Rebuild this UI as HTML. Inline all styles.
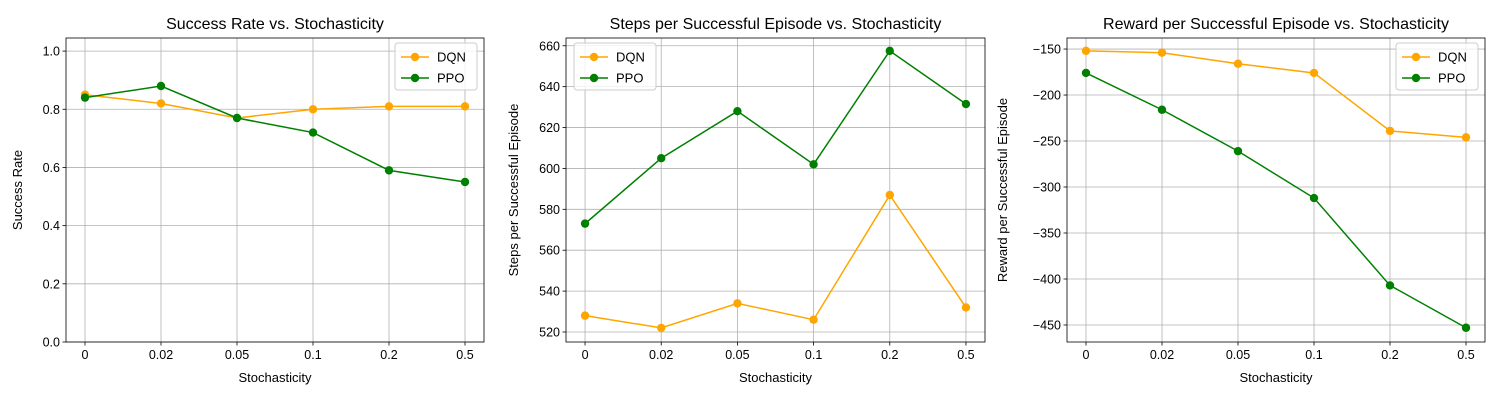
<!DOCTYPE html>
<html><head><meta charset="utf-8"><style>
body{margin:0;background:#fff;}
svg{display:block;font-family:"Liberation Sans","DejaVu Sans",sans-serif;}
</style></head><body>
<svg id="chart" width="1500" height="400" viewBox="0 0 1500 400"></svg>
<script>
const categories = ["0","0.02","0.05","0.1","0.2","0.5"];
const successDQN = [0.85,0.82,0.77,0.80,0.81,0.81];
const successPPO = [0.84,0.88,0.77,0.72,0.59,0.55];
const stepsDQN = [528,522,534,526,587,532];
const stepsPPO = [573,605,628,602,657.5,631.5];
const rewardDQN = [-152,-154,-166,-176,-239,-246];
const rewardPPO = [-176,-216,-261,-312,-407,-453];
const successTicks = [0,0.2,0.4,0.6,0.8,1.0];
const stepsTicks = [520,540,560,580,600,620,640,660];
const rewardTicks = [-150,-200,-250,-300,-350,-400,-450];

const NS="http://www.w3.org/2000/svg";
const svg=document.getElementById('chart');
function mk(tag,attrs,parent,text){const e=document.createElementNS(NS,tag);for(const k in attrs)e.setAttribute(k,attrs[k]);if(text!==undefined)e.textContent=text;(parent||svg).appendChild(e);return e;}

const panels=[
 {name:'success',L:66,R:484,ymin:-0.0,ymax:1.045,ticks:successTicks,fmt:v=>v.toFixed(1),title:'Success Rate vs. Stochasticity',ylabel:'Success Rate',dqn:successDQN,ppo:successPPO,legX:395,ylx:22},
 {name:'steps',L:566,R:985,ymin:515.1,ymax:663.8,ticks:stepsTicks,fmt:v=>String(v),title:'Steps per Successful Episode vs. Stochasticity',ylabel:'Steps per Successful Episode',dqn:stepsDQN,ppo:stepsPPO,legX:574,ylx:518},
 {name:'reward',L:1067,R:1485,ymin:-468.5,ymax:-138,ticks:rewardTicks,fmt:v=>'\u2212'+Math.abs(v),title:'Reward per Successful Episode vs. Stochasticity',ylabel:'Reward per Successful Episode',dqn:rewardDQN,ppo:rewardPPO,legX:1396,ylx:1007}
];
const T=38,B=342;
panels.forEach(p=>{
 const g=mk('g',{});
 
 
 const n=categories.length;
 const pad=(p.R-p.L)/(n-1+0.5);
 const x=i=>p.L+pad*0.25+i*((p.R-p.L-pad*0.5)/(n-1));
 const y=v=>B-(v-p.ymin)/(p.ymax-p.ymin)*(B-T);
 categories.forEach((c,i)=>{
  mk('line',{x1:x(i),x2:x(i),y1:T,y2:B,stroke:'#b0b0b0','stroke-width':0.8},g);
  mk('line',{x1:x(i),x2:x(i),y1:B,y2:B+3.5,stroke:'#000','stroke-width':0.8},g);
  const t=mk('text',{x:x(i),y:B+17,'font-size':12.5,'text-anchor':'middle'},g,c);
  
  
 });
 p.ticks.forEach(v=>{
  const yy=y(v);
  mk('line',{x1:p.L,x2:p.R,y1:yy,y2:yy,stroke:'#b0b0b0','stroke-width':0.8},g);
  mk('line',{x1:p.L-3.5,x2:p.L,y1:yy,y2:yy,stroke:'#000','stroke-width':0.8},g);
  const t=mk('text',{x:p.L-6,y:yy+4.5,'font-size':12.5,'text-anchor':'end'},g,p.fmt(v));
  
  
 });
 mk('rect',{x:p.L,y:T,width:p.R-p.L,height:B-T,fill:'none',stroke:'#000','stroke-width':0.8},g);
 [['dqn','#ffa500',p.dqn],['ppo','#008000',p.ppo]].forEach(([nm,col,vals])=>{
  const line=mk('polyline',{points:vals.map((v,i)=>x(i)+','+y(v)).join(' '),fill:'none',stroke:col,'stroke-width':1.5},g);
  
  
  vals.forEach((v,i)=>{
   const c=mk('circle',{cx:x(i),cy:y(v),r:4.2,fill:col},g);
   
   
  });
 });
 const tt=mk('text',{x:(p.L+p.R)/2,y:29,'font-size':16,'text-anchor':'middle'},g,p.title);
 
 
 const xl=mk('text',{x:(p.L+p.R)/2,y:382,'font-size':13,'text-anchor':'middle'},g,'Stochasticity');
 
 
 const yc=(T+B)/2;
 const yl=mk('text',{x:p.ylx,y:yc,'font-size':13,'text-anchor':'middle',transform:'rotate(-90 '+p.ylx+' '+yc+')'},g,p.ylabel);
 
 
 const lg=mk('g',{},g);
 
 
 mk('rect',{x:p.legX,y:43,width:82,height:47,rx:3,fill:'#fff','fill-opacity':0.8,stroke:'#ccc','stroke-width':1},lg);
 [['DQN','#ffa500',57],['PPO','#008000',78]].forEach(([lab,col,ly])=>{
  const e=mk('g',{},lg);
  
  
  mk('line',{x1:p.legX+6,x2:p.legX+34,y1:ly,y2:ly,stroke:col,'stroke-width':1.5},e);
  mk('circle',{cx:p.legX+20,cy:ly,r:4.2,fill:col},e);
  mk('text',{x:p.legX+42,y:ly+4.5,'font-size':13},e,lab);
 });
});
</script>
</body></html>
